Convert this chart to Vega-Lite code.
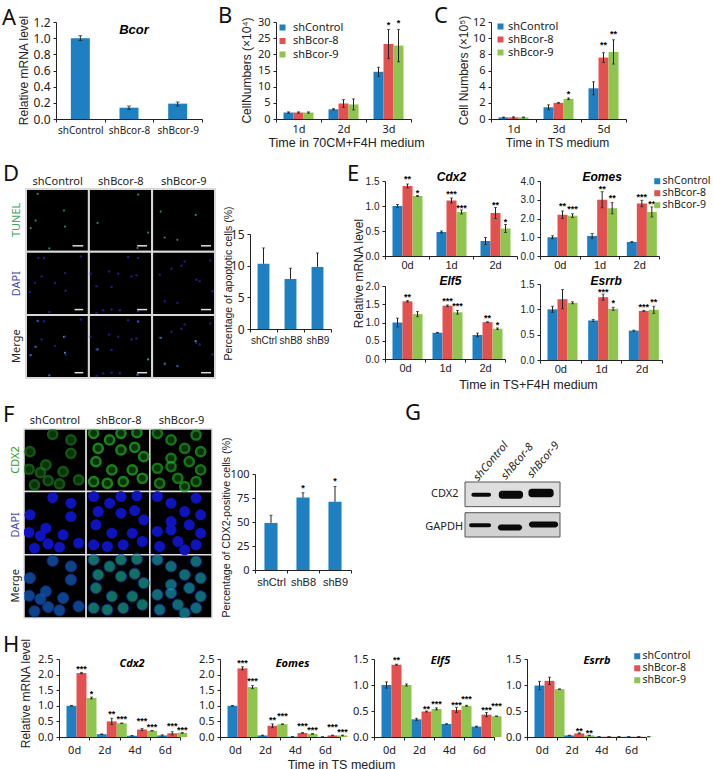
{"$schema":"https://vega.github.io/schema/vega-lite/v6.json","padding":0,"background":"white","bounds":"flush","spacing":0,
"resolve":{"scale":{"color":"independent","stroke":"independent","fill":"independent"},"legend":{"color":"independent","stroke":"independent","fill":"independent"}},
"config":{"view":{"stroke":null},"title":{"font":"Noto Sans","fontSize":22,"fontWeight":"normal","anchor":"start","frame":"group","offset":0,"color":"#111"},"axis":{"grid":false,"domainColor":"#222","tickColor":"#222","tickSize":3,"labelColor":"#222","titleColor":"#222","titleFont":"Liberation Sans","titleFontSize":12,"titleFontWeight":"normal","titleBaseline":"middle","labelFont":"Noto Sans","labelFontSize":11,"labelPadding":3,"labelOverlap":false},"axisX":{"labelAngle":0},"legend":{"padding":0,"labelFont":"Noto Sans","labelFontSize":11,"labelColor":"#222","symbolType":"square","symbolStrokeWidth":0,"symbolSize":36,"labelOffset":5}},
"vconcat":[
{"width":713,"height":22,"data":{"values":[{"a":0}]},"mark":{"type":"point","opacity":0,"size":0,"strokeWidth":0},"encoding":{}},
{"bounds":"flush","spacing":0,"resolve":{"scale":{"color":"independent","stroke":"independent","fill":"independent"},"legend":{"color":"independent","stroke":"independent","fill":"independent"}},"hconcat":[
{"width":56,"height":1,"data":{"values":[{"a":0}]},"mark":{"type":"point","opacity":0,"size":0,"strokeWidth":0},"encoding":{}},
{"width":146,"height":97,"title":{"text":"A","dx":-54,"dy":19},"resolve":{"axis":{"y":"independent"}},
"data":{"values":[{"d":"shControl","v":1,"lo":0.97,"hi":1.03},{"d":"shBcor-8","v":0.14,"lo":0.12,"hi":0.16,"gene":"Bcor","gy":1.1},{"d":"shBcor-9","v":0.19,"lo":0.16,"hi":0.21}]},
"encoding":{"x":{"field":"d","type":"nominal","sort":null,"title":null,"scale":{"paddingInner":0,"paddingOuter":0},"axis":{"tickBand":"extent","labelFontSize":10}}},
"layer":[
{"mark":{"type":"bar","color":"#1e7fc1","width":{"band":0.39}},"encoding":{"y":{"field":"v","type":"quantitative","scale":{"domain":[0,1.2],"nice":false},"axis":{"values":[0,0.2,0.4,0.6,0.8,1,1.2],"format":".1f","labelFontSize":12,"title":"Relative mRNA level","titleX":-33,"titleY":48}}}},
{"mark":{"type":"rule","color":"#222"},"encoding":{"y":{"field":"lo","type":"quantitative","axis":null},"y2":{"field":"hi"}}},
{"mark":{"type":"tick","color":"#222","size":4,"thickness":1},"encoding":{"y":{"field":"lo","type":"quantitative","axis":null}}},
{"mark":{"type":"tick","color":"#222","size":4,"thickness":1},"encoding":{"y":{"field":"hi","type":"quantitative","axis":null}}},
{"mark":{"type":"text","font":"Liberation Sans","fontSize":13,"fontWeight":"bold","fontStyle":"italic","dx":5},"encoding":{"y":{"field":"gy","type":"quantitative","axis":null},"text":{"field":"gene"}}}
]},
{"width":74,"height":1,"data":{"values":[{"a":0}]},"mark":{"type":"point","opacity":0,"size":0,"strokeWidth":0},"encoding":{}},
{"width":135,"height":97,"title":{"text":"B","dx":-58,"dy":16},"resolve":{"axis":{"y":"independent"}},
"data":{"values":[{"d":"1d","g":"shControl","v":2,"lo":1.8,"hi":2.2},{"d":"1d","g":"shBcor-8","v":2,"lo":1.8,"hi":2.2},{"d":"1d","g":"shBcor-9","v":2,"lo":1.8,"hi":2.2},{"d":"2d","g":"shControl","v":3,"lo":2.8,"hi":3.2},{"d":"2d","g":"shBcor-8","v":4.8,"lo":3.6,"hi":6},{"d":"2d","g":"shBcor-9","v":4.5,"lo":2.8,"hi":6.2},{"d":"3d","g":"shControl","v":14.6,"lo":13.2,"hi":16},{"d":"3d","g":"shBcor-8","v":23.2,"lo":18.7,"hi":27.7,"s":"*","sy":29.7},{"d":"3d","g":"shBcor-9","v":22.7,"lo":17.7,"hi":27.7,"s":"*","sy":30.4}]},
"encoding":{"x":{"field":"d","type":"nominal","title":null,"scale":{"paddingInner":0,"paddingOuter":0},"axis":{"tickBand":"extent","labelPadding":1,"title":"Time in 70CM+F4H medium","titleX":70,"titleY":23,"titleFontSize":12.5}},"xOffset":{"field":"g","type":"nominal","scale":{"domain":["shControl","shBcor-8","shBcor-9"],"paddingInner":0,"paddingOuter":0.75}}},
"layer":[
{"mark":{"type":"bar"},"encoding":{"y":{"field":"v","type":"quantitative","stack":null,"scale":{"domain":[0,30],"nice":false},"axis":{"values":[0,5,10,15,20,25,30],"title":"CellNumbers (×10⁴)","titleX":-30,"titleY":48}},"color":{"field":"g","type":"nominal","scale":{"domain":["shControl","shBcor-8","shBcor-9"],"range":["#1e7fc1","#e25050","#8fc44f"]},"legend":{"orient":"none","legendX":1,"legendY":0,"title":null,"rowPadding":1.5}}}},
{"mark":{"type":"rule","color":"#222"},"encoding":{"y":{"field":"lo","type":"quantitative","axis":null},"y2":{"field":"hi"}}},
{"mark":{"type":"tick","color":"#222","size":3,"thickness":1},"encoding":{"y":{"field":"lo","type":"quantitative","axis":null}}},
{"mark":{"type":"tick","color":"#222","size":3,"thickness":1},"encoding":{"y":{"field":"hi","type":"quantitative","axis":null}}},
{"mark":{"type":"text","font":"Liberation Sans","fontSize":9,"fontWeight":"bold","dy":2},"encoding":{"y":{"field":"sy","type":"quantitative","axis":null},"text":{"field":"s"}}}
]},
{"width":80,"height":1,"data":{"values":[{"a":0}]},"mark":{"type":"point","opacity":0,"size":0,"strokeWidth":0},"encoding":{}},
{"width":135,"height":97,"title":{"text":"C","dx":-57,"dy":17},"resolve":{"axis":{"y":"independent"}},
"data":{"values":[{"d":"1d","g":"shControl","v":0.2,"lo":0.15,"hi":0.25},{"d":"1d","g":"shBcor-8","v":0.2,"lo":0.12,"hi":0.28},{"d":"1d","g":"shBcor-9","v":0.2,"lo":0.15,"hi":0.25},{"d":"3d","g":"shControl","v":1.45,"lo":1.15,"hi":1.75},{"d":"3d","g":"shBcor-8","v":2,"lo":1.95,"hi":2.05},{"d":"3d","g":"shBcor-9","v":2.5,"lo":2.4,"hi":2.6,"s":"*","sy":3.4},{"d":"5d","g":"shControl","v":3.8,"lo":3,"hi":4.6},{"d":"5d","g":"shBcor-8","v":7.6,"lo":7,"hi":8.2,"s":"**","sy":9.4},{"d":"5d","g":"shBcor-9","v":8.3,"lo":6.8,"hi":9.8,"s":"**","sy":10.8}]},
"encoding":{"x":{"field":"d","type":"nominal","title":null,"scale":{"paddingInner":0,"paddingOuter":0},"axis":{"tickBand":"extent","labelPadding":1,"title":"Time in TS medium","titleX":66,"titleY":23}},"xOffset":{"field":"g","type":"nominal","scale":{"domain":["shControl","shBcor-8","shBcor-9"],"paddingInner":0,"paddingOuter":0.75}}},
"layer":[
{"mark":{"type":"bar"},"encoding":{"y":{"field":"v","type":"quantitative","stack":null,"scale":{"domain":[0,12],"nice":false},"axis":{"values":[0,2,4,6,8,10,12],"title":"Cell Numbers (×10⁵)","titleX":-28,"titleY":48}},"color":{"field":"g","type":"nominal","scale":{"domain":["shControl","shBcor-8","shBcor-9"],"range":["#1e7fc1","#e25050","#8fc44f"]},"legend":{"orient":"none","legendX":4,"legendY":-1,"title":null,"rowPadding":1,"labelOffset":2}}}},
{"mark":{"type":"rule","color":"#222"},"encoding":{"y":{"field":"lo","type":"quantitative","axis":null},"y2":{"field":"hi"}}},
{"mark":{"type":"tick","color":"#222","size":3,"thickness":1},"encoding":{"y":{"field":"lo","type":"quantitative","axis":null}}},
{"mark":{"type":"tick","color":"#222","size":3,"thickness":1},"encoding":{"y":{"field":"hi","type":"quantitative","axis":null}}},
{"mark":{"type":"text","font":"Liberation Sans","fontSize":9,"fontWeight":"bold","dy":2},"encoding":{"y":{"field":"sy","type":"quantitative","axis":null},"text":{"field":"s"}}}
]}
]},
{"width":1,"height":159,"data":{"values":[{"a":0}]},"mark":{"type":"point","opacity":0,"size":0,"strokeWidth":0},"encoding":{}},
{"bounds":"flush","spacing":0,"resolve":{"scale":{"color":"independent","stroke":"independent","fill":"independent"},"legend":{"color":"independent","stroke":"independent","fill":"independent"}},"hconcat":[
{"width":26,"height":1,"data":{"values":[{"a":0}]},"mark":{"type":"point","opacity":0,"size":0,"strokeWidth":0},"encoding":{}},
{"bounds":"flush","spacing":0,"resolve":{"scale":{"color":"independent","stroke":"independent","fill":"independent"},"legend":{"color":"independent","stroke":"independent","fill":"independent"}},"vconcat":[
{"width":1,"height":8,"data":{"values":[{"a":0}]},"mark":{"type":"point","opacity":0,"size":0,"strokeWidth":0},"encoding":{}},
{"width":189,"height":189,"title":{"text":"D","dx":-23,"dy":14},
"layer":[
{"data":{"values":[{"x":78,"x2":267,"y":87,"y2":276},{"x":267,"x2":457,"y":87,"y2":276},{"x":457,"x2":646,"y":87,"y2":276},{"x":78,"x2":267,"y":276,"y2":466},{"x":267,"x2":457,"y":276,"y2":466},{"x":457,"x2":646,"y":276,"y2":466},{"x":78,"x2":267,"y":466,"y2":656},{"x":267,"x2":457,"y":466,"y2":656},{"x":457,"x2":646,"y":466,"y2":656}]},
"mark":{"type":"rect","color":"#000","stroke":"#d8d8d8","strokeWidth":2},"encoding":{"x":{"field":"x","type":"quantitative","scale":{"domain":[78,646],"nice":false,"zero":false},"axis":null},"x2":{"field":"x2"},"y":{"field":"y","type":"quantitative","scale":{"domain":[656,87],"nice":false,"zero":false},"axis":null},"y2":{"field":"y2"}}},
{"data":{"values":[{"x":113,"y":102,"ym":484},{"x":192,"y":152,"ym":532},{"x":107,"y":182,"ym":562},{"x":195,"y":200,"ym":580},{"x":148,"y":266,"ym":648},{"x":92,"y":205,"ym":587},{"x":415,"y":104,"ym":486},{"x":293,"y":189,"ym":570},{"x":445,"y":218,"ym":600},{"x":413,"y":265,"ym":646},{"x":483,"y":155,"ym":535},{"x":588,"y":165,"ym":545},{"x":495,"y":233,"ym":613},{"x":533,"y":240,"ym":620}]},
"layer":[
{"mark":{"type":"point","filled":true,"color":"#3aa860","size":5,"opacity":0.8},"encoding":{"x":{"field":"x","type":"quantitative"},"y":{"field":"y","type":"quantitative"}}},
{"mark":{"type":"point","filled":true,"color":"#4cc0a0","size":5,"opacity":0.8},"encoding":{"x":{"field":"x","type":"quantitative"},"y":{"field":"ym","type":"quantitative"}}}
]},
{"data":{"values":[{"x":115,"y":295,"ym":485},{"x":132,"y":295,"ym":485},{"x":243,"y":290,"ym":480},{"x":125,"y":350,"ym":540},{"x":105,"y":370,"ym":562},{"x":195,"y":340,"ym":532},{"x":165,"y":370,"ym":560},{"x":197,"y":393,"ym":585},{"x":90,"y":397,"ym":588},{"x":148,"y":457,"ym":648},{"x":290,"y":380,"ym":570},{"x":335,"y":382,"ym":572},{"x":328,"y":335,"ym":525},{"x":355,"y":342,"ym":532},{"x":385,"y":292,"ym":482},{"x":415,"y":295,"ym":485},{"x":272,"y":342,"ym":532},{"x":410,"y":347,"ym":537},{"x":395,"y":350,"ym":540},{"x":415,"y":455,"ym":646},{"x":360,"y":452,"ym":642},{"x":335,"y":450,"ym":640},{"x":310,"y":452,"ym":642},{"x":290,"y":460,"ym":650},{"x":480,"y":345,"ym":535},{"x":545,"y":318,"ym":508},{"x":515,"y":327,"ym":517},{"x":590,"y":360,"ym":550},{"x":600,"y":365,"ym":555},{"x":495,"y":425,"ym":615},{"x":533,"y":430,"ym":620},{"x":632,"y":302,"ym":492},{"x":638,"y":395,"ym":585},{"x":555,"y":305,"ym":495}]},
"layer":[
{"mark":{"type":"point","filled":true,"color":"#2626c0","size":6,"opacity":0.7},"encoding":{"x":{"field":"x","type":"quantitative"},"y":{"field":"y","type":"quantitative"}}},
{"mark":{"type":"point","filled":true,"color":"#2626c0","size":6,"opacity":0.7},"encoding":{"x":{"field":"x","type":"quantitative"},"y":{"field":"ym","type":"quantitative"}}}
]},
{"data":{"values":[{"x":218,"x2":250,"y":258},{"x":412,"x2":442,"y":258},{"x":604,"x2":634,"y":258},{"x":224,"x2":250,"y":450},{"x":412,"x2":442,"y":450},{"x":604,"x2":634,"y":450},{"x":224,"x2":250,"y":640},{"x":412,"x2":442,"y":640},{"x":604,"x2":634,"y":640}]},
"mark":{"type":"rule","color":"#ddd","strokeWidth":1.5},"encoding":{"x":{"field":"x","type":"quantitative"},"x2":{"field":"x2"},"y":{"field":"y","type":"quantitative"}}},
{"data":{"values":[{"t":"shControl","x":173,"y":65},{"t":"shBcor-8","x":363,"y":65},{"t":"shBcor-9","x":552,"y":65}]},
"mark":{"type":"text","font":"Noto Sans","fontSize":11,"color":"#222"},"encoding":{"x":{"field":"x","type":"quantitative"},"y":{"field":"y","type":"quantitative"},"text":{"field":"t"}}},
{"data":{"values":[{"t":"TUNEL","x":50,"y":180},{"t":"DAPI","x":50,"y":372},{"t":"Merge","x":50,"y":560}]},
"mark":{"type":"text","font":"Noto Sans","fontSize":11,"angle":270},"encoding":{"x":{"field":"x","type":"quantitative"},"y":{"field":"y","type":"quantitative"},"text":{"field":"t"},"color":{"field":"t","type":"nominal","scale":{"domain":["TUNEL","DAPI","Merge"],"range":["#3aa860","#4a4ab0","#222222"]},"legend":null}}}
]}
]},
{"width":224,"height":1,"data":{"values":[{"a":0}]},"mark":{"type":"point","opacity":0,"size":0,"strokeWidth":0},"encoding":{}},
{"bounds":"flush","spacing":0,"resolve":{"scale":{"color":"independent","stroke":"independent","fill":"independent"},"legend":{"color":"independent","stroke":"independent","fill":"independent"}},"vconcat":[
{"width":1,"height":53,"data":{"values":[{"a":0}]},"mark":{"type":"point","opacity":0,"size":0,"strokeWidth":0},"encoding":{}},
{"width":81,"height":95,"resolve":{"axis":{"y":"independent"}},
"data":{"values":[{"d":"shCtrl","v":10.3,"hi":12.8},{"d":"shB8","v":7.9,"hi":9.6},{"d":"shB9","v":9.8,"hi":12}]},
"encoding":{"x":{"field":"d","type":"nominal","sort":null,"title":null,"scale":{"paddingInner":0,"paddingOuter":0},"axis":{"tickBand":"extent","labelFont":"Liberation Sans","labelFontSize":10}}},
"layer":[
{"mark":{"type":"bar","color":"#1e7fc1","width":{"band":0.44}},"encoding":{"y":{"field":"v","type":"quantitative","scale":{"domain":[0,15],"nice":false},"axis":{"values":[0,5,10,15],"labelFontSize":12,"title":"Percentage of apoptotic cells (%)","titleX":-22,"titleY":49,"titleFontSize":10.5}}}},
{"mark":{"type":"rule","color":"#222"},"encoding":{"y":{"field":"v","type":"quantitative","axis":null},"y2":{"field":"hi"}}},
{"mark":{"type":"tick","color":"#222","size":3,"thickness":1},"encoding":{"y":{"field":"hi","type":"quantitative","axis":null}}}
]}
]},
{"width":135,"height":1,"data":{"values":[{"a":0}]},"mark":{"type":"point","opacity":0,"size":0,"strokeWidth":0},"encoding":{}},
{"bounds":"flush","spacing":0,"resolve":{"scale":{"color":"independent","stroke":"independent","fill":"independent"},"legend":{"color":"independent","stroke":"independent","fill":"independent"}},"vconcat":[
{"width":132,"height":75,"title":{"text":"E","dx":-38,"dy":19},"resolve":{"axis":{"y":"independent"}},
"data":{"values":[{"d":"0d","g":"shControl","v":1,"lo":0.97,"hi":1.03},{"d":"0d","g":"shBcor-8","v":1.4,"lo":1.36,"hi":1.44,"s":"**","sy":1.58},{"d":"0d","g":"shBcor-9","v":1.2,"lo":1.19,"hi":1.21,"s":"*","sy":1.3},{"d":"1d","g":"shControl","v":0.48,"lo":0.46,"hi":0.5},{"d":"1d","g":"shBcor-8","v":1.11,"lo":1.06,"hi":1.16,"s":"***","sy":1.28,"gene":"Cdx2","gy":1.58},{"d":"1d","g":"shBcor-9","v":0.88,"lo":0.84,"hi":0.92,"s":"***","sy":1.01},{"d":"2d","g":"shControl","v":0.3,"lo":0.23,"hi":0.37},{"d":"2d","g":"shBcor-8","v":0.86,"lo":0.75,"hi":0.97,"s":"**","sy":1.07},{"d":"2d","g":"shBcor-9","v":0.55,"lo":0.47,"hi":0.63,"s":"*","sy":0.73}]},
"encoding":{"x":{"field":"d","type":"nominal","title":null,"scale":{"paddingInner":0,"paddingOuter":0},"axis":{"tickBand":"extent","labelFont":"Liberation Sans","labelPadding":0}},"xOffset":{"field":"g","type":"nominal","scale":{"domain":["shControl","shBcor-8","shBcor-9"],"paddingInner":0,"paddingOuter":0.7}}},
"layer":[
{"mark":{"type":"bar"},"encoding":{"y":{"field":"v","type":"quantitative","stack":null,"scale":{"domain":[0,1.5],"nice":false},"axis":{"values":[0,0.5,1,1.5],"format":".1f","labelFont":"Liberation Sans","labelFontSize":10,"title":null}},"color":{"field":"g","type":"nominal","scale":{"domain":["shControl","shBcor-8","shBcor-9"],"range":["#1e7fc1","#e25050","#8fc44f"]},"legend":null}}},
{"mark":{"type":"rule","color":"#222"},"encoding":{"y":{"field":"lo","type":"quantitative","axis":null},"y2":{"field":"hi"}}},
{"mark":{"type":"tick","color":"#222","size":3,"thickness":1},"encoding":{"y":{"field":"lo","type":"quantitative","axis":null}}},
{"mark":{"type":"tick","color":"#222","size":3,"thickness":1},"encoding":{"y":{"field":"hi","type":"quantitative","axis":null}}},
{"mark":{"type":"text","font":"Liberation Sans","fontSize":9,"fontWeight":"bold","dy":2},"encoding":{"y":{"field":"sy","type":"quantitative","axis":null},"text":{"field":"s"}}},
{"mark":{"type":"text","font":"Liberation Sans","fontSize":12,"fontWeight":"bold","fontStyle":"italic"},"encoding":{"y":{"field":"gy","type":"quantitative","axis":null},"text":{"field":"gene"}}}
]},
{"width":1,"height":30,"data":{"values":[{"a":0}]},"mark":{"type":"point","opacity":0,"size":0,"strokeWidth":0},"encoding":{}},
{"width":120,"height":73,"resolve":{"axis":{"y":"independent"}},
"data":{"values":[{"d":"0d","g":"shControl","v":1,"lo":0.88,"hi":1.12},{"d":"0d","g":"shBcor-8","v":1.58,"lo":1.56,"hi":1.6,"s":"**","sy":1.76},{"d":"0d","g":"shBcor-9","v":1.23,"lo":1.16,"hi":1.3},{"d":"1d","g":"shControl","v":0.72,"lo":0.71,"hi":0.73},{"d":"1d","g":"shBcor-8","v":1.46,"lo":1.44,"hi":1.48,"s":"***","sy":1.64,"gene":"Elf5","gy":2.14},{"d":"1d","g":"shBcor-9","v":1.28,"lo":1.23,"hi":1.33,"s":"***","sy":1.51},{"d":"2d","g":"shControl","v":0.66,"lo":0.61,"hi":0.71},{"d":"2d","g":"shBcor-8","v":1.01,"lo":1,"hi":1.02,"s":"**","sy":1.19},{"d":"2d","g":"shBcor-9","v":0.83,"lo":0.81,"hi":0.85,"s":"*","sy":1}]},
"encoding":{"x":{"field":"d","type":"nominal","title":null,"scale":{"paddingInner":0,"paddingOuter":0},"axis":{"tickBand":"extent","labelFont":"Liberation Sans","labelPadding":0,"title":"Time in TS+F4H medium","titleX":143,"titleY":25,"titleFontSize":12.5}},"xOffset":{"field":"g","type":"nominal","scale":{"domain":["shControl","shBcor-8","shBcor-9"],"paddingInner":0,"paddingOuter":0.55}}},
"layer":[
{"mark":{"type":"bar"},"encoding":{"y":{"field":"v","type":"quantitative","stack":null,"scale":{"domain":[0,2],"nice":false},"axis":{"values":[0,0.5,1,1.5,2],"format":".1f","labelFont":"Liberation Sans","labelFontSize":10,"title":"Relative mRNA level","titleX":-27,"titleY":-13}},"color":{"field":"g","type":"nominal","scale":{"domain":["shControl","shBcor-8","shBcor-9"],"range":["#1e7fc1","#e25050","#8fc44f"]},"legend":null}}},
{"mark":{"type":"rule","color":"#222"},"encoding":{"y":{"field":"lo","type":"quantitative","axis":null},"y2":{"field":"hi"}}},
{"mark":{"type":"tick","color":"#222","size":3,"thickness":1},"encoding":{"y":{"field":"lo","type":"quantitative","axis":null}}},
{"mark":{"type":"tick","color":"#222","size":3,"thickness":1},"encoding":{"y":{"field":"hi","type":"quantitative","axis":null}}},
{"mark":{"type":"text","font":"Liberation Sans","fontSize":9,"fontWeight":"bold","dy":2},"encoding":{"y":{"field":"sy","type":"quantitative","axis":null},"text":{"field":"s"}}},
{"mark":{"type":"text","font":"Liberation Sans","fontSize":12,"fontWeight":"bold","fontStyle":"italic","dx":3},"encoding":{"y":{"field":"gy","type":"quantitative","axis":null},"text":{"field":"gene"}}}
]}
]},
{"width":155,"height":1,"data":{"values":[{"a":0}]},"mark":{"type":"point","opacity":0,"size":0,"strokeWidth":0},"encoding":{}},
{"bounds":"flush","spacing":0,"resolve":{"scale":{"color":"independent","stroke":"independent","fill":"independent"},"legend":{"color":"independent","stroke":"independent","fill":"independent"}},"vconcat":[
{"width":119,"height":75,"resolve":{"axis":{"y":"independent"}},
"data":{"values":[{"d":"0d","g":"shControl","v":1,"lo":0.92,"hi":1.08},{"d":"0d","g":"shBcor-8","v":2.2,"lo":2,"hi":2.4,"s":"**","sy":2.8},{"d":"0d","g":"shBcor-9","v":2.15,"lo":2.05,"hi":2.25,"s":"***","sy":2.6},{"d":"1d","g":"shControl","v":1.07,"lo":0.94,"hi":1.2},{"d":"1d","g":"shBcor-8","v":3,"lo":2.57,"hi":3.43,"s":"**","sy":3.7,"gene":"Eomes","gy":4.2},{"d":"1d","g":"shBcor-9","v":2.55,"lo":2.25,"hi":2.85,"s":"**","sy":3.2},{"d":"2d","g":"shControl","v":0.75,"lo":0.73,"hi":0.77},{"d":"2d","g":"shBcor-8","v":2.8,"lo":2.63,"hi":2.97,"s":"***","sy":3.25},{"d":"2d","g":"shBcor-9","v":2.35,"lo":2.08,"hi":2.62,"s":"**","sy":2.9}]},
"encoding":{"x":{"field":"d","type":"nominal","title":null,"scale":{"paddingInner":0,"paddingOuter":0},"axis":{"tickBand":"extent","labelFont":"Liberation Sans","labelPadding":0}},"xOffset":{"field":"g","type":"nominal","scale":{"domain":["shControl","shBcor-8","shBcor-9"],"paddingInner":0,"paddingOuter":0.55}}},
"layer":[
{"mark":{"type":"bar"},"encoding":{"y":{"field":"v","type":"quantitative","stack":null,"scale":{"domain":[0,4],"nice":false},"axis":{"values":[0,1,2,3,4],"format":".1f","labelFont":"Liberation Sans","labelFontSize":10,"title":null}},"color":{"field":"g","type":"nominal","scale":{"domain":["shControl","shBcor-8","shBcor-9"],"range":["#1e7fc1","#e25050","#8fc44f"]},"legend":{"orient":"none","legendX":112,"legendY":-5,"title":null,"rowPadding":1,"labelOffset":0,"labelFontSize":10.5}}}},
{"mark":{"type":"rule","color":"#222"},"encoding":{"y":{"field":"lo","type":"quantitative","axis":null},"y2":{"field":"hi"}}},
{"mark":{"type":"tick","color":"#222","size":3,"thickness":1},"encoding":{"y":{"field":"lo","type":"quantitative","axis":null}}},
{"mark":{"type":"tick","color":"#222","size":3,"thickness":1},"encoding":{"y":{"field":"hi","type":"quantitative","axis":null}}},
{"mark":{"type":"text","font":"Liberation Sans","fontSize":9,"fontWeight":"bold","dy":2},"encoding":{"y":{"field":"sy","type":"quantitative","axis":null},"text":{"field":"s"}}},
{"mark":{"type":"text","font":"Liberation Sans","fontSize":12,"fontWeight":"bold","fontStyle":"italic"},"encoding":{"y":{"field":"gy","type":"quantitative","axis":null},"text":{"field":"gene"}}}
]},
{"width":1,"height":28,"data":{"values":[{"a":0}]},"mark":{"type":"point","opacity":0,"size":0,"strokeWidth":0},"encoding":{}},
{"width":122,"height":76,"resolve":{"axis":{"y":"independent"}},
"data":{"values":[{"d":"0d","g":"shControl","v":1,"lo":0.94,"hi":1.06},{"d":"0d","g":"shBcor-8","v":1.2,"lo":1.01,"hi":1.39},{"d":"0d","g":"shBcor-9","v":1.13,"lo":1.11,"hi":1.15},{"d":"1d","g":"shControl","v":0.78,"lo":0.76,"hi":0.8},{"d":"1d","g":"shBcor-8","v":1.24,"lo":1.18,"hi":1.3,"s":"***","sy":1.39,"gene":"Esrrb","gy":1.56},{"d":"1d","g":"shBcor-9","v":1.01,"lo":0.98,"hi":1.04,"s":"*","sy":1.16},{"d":"2d","g":"shControl","v":0.58,"lo":0.57,"hi":0.59},{"d":"2d","g":"shBcor-8","v":0.97,"lo":0.96,"hi":0.98,"s":"***","sy":1.08},{"d":"2d","g":"shBcor-9","v":0.99,"lo":0.92,"hi":1.06,"s":"**","sy":1.19}]},
"encoding":{"x":{"field":"d","type":"nominal","title":null,"scale":{"paddingInner":0,"paddingOuter":0},"axis":{"tickBand":"extent","labelFont":"Liberation Sans","labelPadding":0}},"xOffset":{"field":"g","type":"nominal","scale":{"domain":["shControl","shBcor-8","shBcor-9"],"paddingInner":0,"paddingOuter":0.55}}},
"layer":[
{"mark":{"type":"bar"},"encoding":{"y":{"field":"v","type":"quantitative","stack":null,"scale":{"domain":[0,1.5],"nice":false},"axis":{"values":[0,0.5,1,1.5],"format":".1f","labelFont":"Liberation Sans","labelFontSize":10,"title":null}},"color":{"field":"g","type":"nominal","scale":{"domain":["shControl","shBcor-8","shBcor-9"],"range":["#1e7fc1","#e25050","#8fc44f"]},"legend":null}}},
{"mark":{"type":"rule","color":"#222"},"encoding":{"y":{"field":"lo","type":"quantitative","axis":null},"y2":{"field":"hi"}}},
{"mark":{"type":"tick","color":"#222","size":3,"thickness":1},"encoding":{"y":{"field":"lo","type":"quantitative","axis":null}}},
{"mark":{"type":"tick","color":"#222","size":3,"thickness":1},"encoding":{"y":{"field":"hi","type":"quantitative","axis":null}}},
{"mark":{"type":"text","font":"Liberation Sans","fontSize":9,"fontWeight":"bold","dy":2},"encoding":{"y":{"field":"sy","type":"quantitative","axis":null},"text":{"field":"s"}}},
{"mark":{"type":"text","font":"Liberation Sans","fontSize":12,"fontWeight":"bold","fontStyle":"italic","dx":3},"encoding":{"y":{"field":"gy","type":"quantitative","axis":null},"text":{"field":"gene"}}}
]}
]}
]},
{"width":1,"height":248,"data":{"values":[{"a":0}]},"mark":{"type":"point","opacity":0,"size":0,"strokeWidth":0},"encoding":{}},
{"bounds":"flush","spacing":0,"resolve":{"scale":{"color":"independent","stroke":"independent","fill":"independent"},"legend":{"color":"independent","stroke":"independent","fill":"independent"}},"hconcat":[
{"width":24,"height":1,"data":{"values":[{"a":0}]},"mark":{"type":"point","opacity":0,"size":0,"strokeWidth":0},"encoding":{}},
{"width":188,"height":189,"title":{"text":"F","dx":-21,"dy":16},
"layer":[
{"data":{"values":[{"x":52,"x2":188.5,"y":117,"y2":305},{"x":188.5,"x2":328.5,"y":117,"y2":305},{"x":328.5,"x2":465,"y":117,"y2":305},{"x":52,"x2":188.5,"y":305,"y2":495},{"x":188.5,"x2":328.5,"y":305,"y2":495},{"x":328.5,"x2":465,"y":305,"y2":495},{"x":52,"x2":188.5,"y":495,"y2":685},{"x":188.5,"x2":328.5,"y":495,"y2":685},{"x":328.5,"x2":465,"y":495,"y2":685}]},
"mark":{"type":"rect","color":"#000","stroke":"#e0e0e0","strokeWidth":1.5},"encoding":{"x":{"field":"x","type":"quantitative","scale":{"domain":[52,465],"nice":false,"zero":false},"axis":null},"x2":{"field":"x2"},"y":{"field":"y","type":"quantitative","scale":{"domain":[685,117],"nice":false,"zero":false},"axis":null},"y2":{"field":"y2"}}},
{"data":{"values":[{"k":"ctrl","x":115,"y":133,"yd":323,"ym":513},{"k":"ctrl","x":155,"y":150,"yd":340,"ym":530},{"k":"ctrl","x":65,"y":185,"yd":375,"ym":565},{"k":"ctrl","x":100,"y":225,"yd":415,"ym":605},{"k":"ctrl","x":138,"y":245,"yd":435,"ym":625},{"k":"ctrl","x":88,"y":248,"yd":438,"ym":628},{"k":"ctrl","x":63,"y":238,"yd":428,"ym":618},{"k":"ctrl","x":155,"y":190,"yd":380,"ym":570},{"k":"ctrl","x":172,"y":270,"yd":460,"ym":650},{"k":"ctrl","x":130,"y":282,"yd":472,"ym":662},{"k":"ctrl","x":75,"y":285,"yd":475,"ym":665},{"k":"ctrl","x":105,"y":272,"yd":462,"ym":652},{"k":"b8","x":205,"y":130,"yd":320,"ym":510},{"k":"b8","x":240,"y":150,"yd":340,"ym":530},{"k":"b8","x":215,"y":175,"yd":365,"ym":555},{"k":"b8","x":265,"y":180,"yd":370,"ym":560},{"k":"b8","x":295,"y":172,"yd":362,"ym":552},{"k":"b8","x":315,"y":200,"yd":390,"ym":580},{"k":"b8","x":210,"y":215,"yd":405,"ym":595},{"k":"b8","x":245,"y":240,"yd":430,"ym":620},{"k":"b8","x":290,"y":240,"yd":430,"ym":620},{"k":"b8","x":205,"y":275,"yd":465,"ym":655},{"k":"b8","x":235,"y":280,"yd":470,"ym":660},{"k":"b8","x":270,"y":275,"yd":465,"ym":655},{"k":"b8","x":312,"y":265,"yd":455,"ym":645},{"k":"b8","x":265,"y":130,"yd":320,"ym":510},{"k":"b8","x":300,"y":128,"yd":318,"ym":508},{"k":"b9","x":375,"y":150,"yd":340,"ym":530},{"k":"b9","x":345,"y":130,"yd":320,"ym":510},{"k":"b9","x":430,"y":135,"yd":325,"ym":515},{"k":"b9","x":405,"y":175,"yd":365,"ym":555},{"k":"b9","x":375,"y":205,"yd":395,"ym":585},{"k":"b9","x":440,"y":185,"yd":375,"ym":565},{"k":"b9","x":345,"y":235,"yd":425,"ym":615},{"k":"b9","x":375,"y":230,"yd":420,"ym":610},{"k":"b9","x":415,"y":215,"yd":405,"ym":595},{"k":"b9","x":440,"y":240,"yd":430,"ym":620},{"k":"b9","x":350,"y":280,"yd":470,"ym":660},{"k":"b9","x":390,"y":265,"yd":455,"ym":645},{"k":"b9","x":430,"y":275,"yd":465,"ym":655},{"k":"b9","x":405,"y":290,"yd":480,"ym":670}]},
"layer":[
{"mark":{"type":"point","shape":"circle","filled":true,"size":85,"strokeWidth":2.5,"fill":"#0c4a0c","clip":true},"encoding":{"x":{"field":"x","type":"quantitative"},"y":{"field":"y","type":"quantitative"},"stroke":{"field":"k","type":"nominal","scale":{"domain":["ctrl","b8","b9"],"range":["#1c7a22","#28b828","#22a524"]},"legend":null}}},
{"mark":{"type":"point","shape":"circle","filled":true,"size":120,"color":"#0f14c8","opacity":0.95,"clip":true},"encoding":{"x":{"field":"x","type":"quantitative"},"y":{"field":"yd","type":"quantitative"}}},
{"mark":{"type":"point","shape":"circle","filled":true,"size":125,"stroke":"#0c3fb4","strokeWidth":1,"clip":true},"encoding":{"x":{"field":"x","type":"quantitative"},"y":{"field":"ym","type":"quantitative"},"fill":{"field":"k","type":"nominal","scale":{"domain":["ctrl","b8","b9"],"range":["#1560c8","#18a08c","#1898a8"]},"legend":null}}}
]},
{"data":{"values":[{"t":"shControl","x":120,"y":93},{"t":"shBcor-8","x":260,"y":93},{"t":"shBcor-9","x":398,"y":93}]},
"mark":{"type":"text","font":"Noto Sans","fontSize":11,"color":"#222"},"encoding":{"x":{"field":"x","type":"quantitative"},"y":{"field":"y","type":"quantitative"},"text":{"field":"t"}}},
{"data":{"values":[{"t":"CDX2","x":35,"y":210},{"t":"DAPI","x":35,"y":405},{"t":"Merge","x":35,"y":588}]},
"mark":{"type":"text","font":"Noto Sans","fontSize":11,"angle":270},"encoding":{"x":{"field":"x","type":"quantitative"},"y":{"field":"y","type":"quantitative"},"text":{"field":"t"},"color":{"field":"t","type":"nominal","scale":{"domain":["CDX2","DAPI","Merge"],"range":["#2ca02c","#4a4ab0","#222222"]},"legend":null}}}
]},
{"width":43,"height":1,"data":{"values":[{"a":0}]},"mark":{"type":"point","opacity":0,"size":0,"strokeWidth":0},"encoding":{}},
{"bounds":"flush","spacing":0,"resolve":{"scale":{"color":"independent","stroke":"independent","fill":"independent"},"legend":{"color":"independent","stroke":"independent","fill":"independent"}},"vconcat":[
{"width":1,"height":45,"data":{"values":[{"a":0}]},"mark":{"type":"point","opacity":0,"size":0,"strokeWidth":0},"encoding":{}},
{"width":96,"height":96,"resolve":{"axis":{"y":"independent"}},
"data":{"values":[{"d":"shCtrl","v":49,"hi":57},{"d":"shB8","v":75.5,"hi":80.5,"s":"*","sy":88},{"d":"shB9","v":71,"hi":87,"s":"*","sy":95}]},
"encoding":{"x":{"field":"d","type":"nominal","sort":null,"title":null,"scale":{"paddingInner":0,"paddingOuter":0},"axis":{"tickBand":"extent","labelFont":"Liberation Sans"}}},
"layer":[
{"mark":{"type":"bar","color":"#1e7fc1","width":{"band":0.41}},"encoding":{"y":{"field":"v","type":"quantitative","scale":{"domain":[0,100],"nice":false},"axis":{"values":[0,25,50,75,100],"title":"Percentage of CDX2-positive cells (%)","titleX":-29,"titleY":53,"titleFontSize":10.6}}}},
{"mark":{"type":"rule","color":"#222"},"encoding":{"y":{"field":"v","type":"quantitative","axis":null},"y2":{"field":"hi"}}},
{"mark":{"type":"tick","color":"#222","size":3,"thickness":1},"encoding":{"y":{"field":"hi","type":"quantitative","axis":null}}},
{"mark":{"type":"text","font":"Liberation Sans","fontSize":9,"fontWeight":"bold","dy":2},"encoding":{"y":{"field":"sy","type":"quantitative","axis":null},"text":{"field":"s"}}}
]}
]},
{"width":210,"height":1,"data":{"values":[{"a":0}]},"mark":{"type":"point","opacity":0,"size":0,"strokeWidth":0},"encoding":{}},
{"bounds":"flush","spacing":0,"resolve":{"scale":{"color":"independent","stroke":"independent","fill":"independent"},"legend":{"color":"independent","stroke":"independent","fill":"independent"}},"vconcat":[
{"width":1,"height":53,"data":{"values":[{"a":0}]},"mark":{"type":"point","opacity":0,"size":0,"strokeWidth":0},"encoding":{}},
{"width":95,"height":55,"title":{"text":"G","dx":-60,"dy":-11},
"layer":[
{"data":{"values":[{"x":1018,"x2":1226,"y":277,"y2":350,"k":"CDX2"},{"x":1018,"x2":1226,"y":368,"y2":440,"k":"GAPDH"}]},
"mark":{"type":"rect","stroke":"#555","strokeWidth":1},"encoding":{"x":{"field":"x","type":"quantitative","scale":{"domain":[1018,1226],"nice":false,"zero":false},"axis":null},"x2":{"field":"x2"},"y":{"field":"y","type":"quantitative","scale":{"domain":[440,277],"nice":false,"zero":false},"axis":null},"y2":{"field":"y2"},"fill":{"field":"k","type":"nominal","scale":{"domain":["CDX2","GAPDH"],"range":["#dedede","#d2d2d2"]},"legend":null}}},
{"data":{"values":[{"x":1032,"x2":1075,"y":309,"y2":321},{"x":1092,"x2":1145,"y":303,"y2":327},{"x":1157,"x2":1212,"y":297,"y2":322},{"x":1027,"x2":1075,"y":399,"y2":411},{"x":1090,"x2":1143,"y":403,"y2":421},{"x":1158,"x2":1222,"y":394,"y2":412}]},
"mark":{"type":"rect","color":"#0a0a0a","cornerRadius":3},"encoding":{"x":{"field":"x","type":"quantitative"},"x2":{"field":"x2"},"y":{"field":"y","type":"quantitative"},"y2":{"field":"y2"}}},
{"data":{"values":[{"t":"CDX2","x":1004,"y":313},{"t":"GAPDH","x":1014,"y":410}]},
"mark":{"type":"text","font":"Noto Sans","fontSize":11,"align":"right","color":"#222"},"encoding":{"x":{"field":"x","type":"quantitative"},"y":{"field":"y","type":"quantitative"},"text":{"field":"t"}}},
{"data":{"values":[{"t":"shControl","x":1042,"y":270},{"t":"shBcor-8","x":1103,"y":265},{"t":"shBcor-9","x":1160,"y":260}]},
"mark":{"type":"text","font":"Noto Sans","fontSize":11,"fontStyle":"italic","align":"left","angle":310,"color":"#222"},"encoding":{"x":{"field":"x","type":"quantitative"},"y":{"field":"y","type":"quantitative"},"text":{"field":"t"}}}
]}
]}
]},
{"width":1,"height":230,"data":{"values":[{"a":0}]},"mark":{"type":"point","opacity":0,"size":0,"strokeWidth":0},"encoding":{}},
{"bounds":"flush","spacing":0,"resolve":{"scale":{"color":"independent","stroke":"independent","fill":"independent"},"legend":{"color":"independent","stroke":"independent","fill":"independent"}},"hconcat":[
{"width":59,"height":1,"data":{"values":[{"a":0}]},"mark":{"type":"point","opacity":0,"size":0,"strokeWidth":0},"encoding":{}},
{"width":121,"height":78,"title":{"text":"H","dx":-56,"dy":23},"resolve":{"axis":{"y":"independent"}},
"data":{"values":[{"d":"0d","g":"shControl","v":1,"lo":0.99,"hi":1.01},{"d":"0d","g":"shBcor-8","v":2.05,"lo":2.03,"hi":2.07,"s":"***","sy":2.25},{"d":"0d","g":"shBcor-9","v":1.25,"lo":1.22,"hi":1.28,"s":"*","sy":1.45},{"d":"2d","g":"shControl","v":0.09,"lo":0.08,"hi":0.1},{"d":"2d","g":"shBcor-8","v":0.5,"lo":0.4,"hi":0.6,"s":"**","sy":0.8},{"d":"2d","g":"shBcor-9","v":0.44,"lo":0.43,"hi":0.45,"s":"***","sy":0.64},{"d":"4d","g":"shControl","v":0.04,"lo":0.03,"hi":0.05},{"d":"4d","g":"shBcor-8","v":0.24,"lo":0.21,"hi":0.27,"s":"***","sy":0.57,"gene":"Cdx2","gy":2.33},{"d":"4d","g":"shBcor-9","v":0.2,"lo":0.19,"hi":0.21,"s":"***","sy":0.39},{"d":"6d","g":"shControl","v":0.05,"lo":0.03,"hi":0.07},{"d":"6d","g":"shBcor-8","v":0.12,"lo":0.07,"hi":0.17,"s":"***","sy":0.41},{"d":"6d","g":"shBcor-9","v":0.13,"lo":0.12,"hi":0.14,"s":"***","sy":0.28}]},
"encoding":{"x":{"field":"d","type":"nominal","title":null,"scale":{"paddingInner":0,"paddingOuter":0},"axis":{"tickBand":"extent","labelPadding":4}},"xOffset":{"field":"g","type":"nominal","scale":{"domain":["shControl","shBcor-8","shBcor-9"],"paddingInner":0,"paddingOuter":0.88}}},
"layer":[
{"mark":{"type":"bar"},"encoding":{"y":{"field":"v","type":"quantitative","stack":null,"scale":{"domain":[0,2.5],"nice":false},"axis":{"values":[0,0.5,1,1.5,2,2.5],"format":".1f","title":"Relative mRNA level","titleX":-34,"titleY":34}},"color":{"field":"g","type":"nominal","scale":{"domain":["shControl","shBcor-8","shBcor-9"],"range":["#1e7fc1","#e25050","#8fc44f"]},"legend":null}}},
{"mark":{"type":"rule","color":"#222"},"encoding":{"y":{"field":"lo","type":"quantitative","axis":null},"y2":{"field":"hi"}}},
{"mark":{"type":"tick","color":"#222","size":3,"thickness":1},"encoding":{"y":{"field":"lo","type":"quantitative","axis":null}}},
{"mark":{"type":"tick","color":"#222","size":3,"thickness":1},"encoding":{"y":{"field":"hi","type":"quantitative","axis":null}}},
{"mark":{"type":"text","font":"Liberation Sans","fontSize":9,"fontWeight":"bold","dy":2},"encoding":{"y":{"field":"sy","type":"quantitative","axis":null},"text":{"field":"s"}}},
{"mark":{"type":"text","font":"Noto Sans","fontSize":11,"fontWeight":"bold","fontStyle":"italic","dx":-10},"encoding":{"y":{"field":"gy","type":"quantitative","axis":null},"text":{"field":"gene"}}}
]},
{"width":40,"height":1,"data":{"values":[{"a":0}]},"mark":{"type":"point","opacity":0,"size":0,"strokeWidth":0},"encoding":{}},
{"width":120,"height":78,"resolve":{"axis":{"y":"independent"}},
"data":{"values":[{"d":"0d","g":"shControl","v":1,"lo":0.99,"hi":1.01},{"d":"0d","g":"shBcor-8","v":2.2,"lo":2.15,"hi":2.25,"s":"***","sy":2.43},{"d":"0d","g":"shBcor-9","v":1.6,"lo":1.55,"hi":1.65,"s":"***","sy":1.86},{"d":"2d","g":"shControl","v":0.05,"lo":0.04,"hi":0.06},{"d":"2d","g":"shBcor-8","v":0.36,"lo":0.3,"hi":0.42,"s":"**","sy":0.6},{"d":"2d","g":"shBcor-9","v":0.41,"lo":0.4,"hi":0.42,"s":"***","sy":0.74},{"d":"4d","g":"shControl","v":0.01,"lo":0.005,"hi":0.015},{"d":"4d","g":"shBcor-8","v":0.13,"lo":0.12,"hi":0.14,"s":"***","sy":0.43,"gene":"Eomes","gy":2.33},{"d":"4d","g":"shBcor-9","v":0.1,"lo":0.09,"hi":0.11,"s":"***","sy":0.28},{"d":"6d","g":"shControl","v":0.005,"lo":0.003,"hi":0.007},{"d":"6d","g":"shBcor-8","v":0.05,"lo":0.04,"hi":0.06,"s":"***","sy":0.37},{"d":"6d","g":"shBcor-9","v":0.05,"lo":0.04,"hi":0.06,"s":"***","sy":0.21}]},
"encoding":{"x":{"field":"d","type":"nominal","title":null,"scale":{"paddingInner":0,"paddingOuter":0},"axis":{"tickBand":"extent","labelPadding":4}},"xOffset":{"field":"g","type":"nominal","scale":{"domain":["shControl","shBcor-8","shBcor-9"],"paddingInner":0,"paddingOuter":0.88}}},
"layer":[
{"mark":{"type":"bar"},"encoding":{"y":{"field":"v","type":"quantitative","stack":null,"scale":{"domain":[0,2.5],"nice":false},"axis":{"values":[0,0.5,1,1.5,2,2.5],"format":".1f","title":null}},"color":{"field":"g","type":"nominal","scale":{"domain":["shControl","shBcor-8","shBcor-9"],"range":["#1e7fc1","#e25050","#8fc44f"]},"legend":null}}},
{"mark":{"type":"rule","color":"#222"},"encoding":{"y":{"field":"lo","type":"quantitative","axis":null},"y2":{"field":"hi"}}},
{"mark":{"type":"tick","color":"#222","size":3,"thickness":1},"encoding":{"y":{"field":"lo","type":"quantitative","axis":null}}},
{"mark":{"type":"tick","color":"#222","size":3,"thickness":1},"encoding":{"y":{"field":"hi","type":"quantitative","axis":null}}},
{"mark":{"type":"text","font":"Liberation Sans","fontSize":9,"fontWeight":"bold","dy":2},"encoding":{"y":{"field":"sy","type":"quantitative","axis":null},"text":{"field":"s"}}},
{"mark":{"type":"text","font":"Noto Sans","fontSize":11,"fontWeight":"bold","fontStyle":"italic","dx":-10},"encoding":{"y":{"field":"gy","type":"quantitative","axis":null},"text":{"field":"gene"}}}
]},
{"width":34,"height":1,"data":{"values":[{"a":0}]},"mark":{"type":"point","opacity":0,"size":0,"strokeWidth":0},"encoding":{}},
{"width":120,"height":78,"resolve":{"axis":{"y":"independent"}},
"data":{"values":[{"d":"0d","g":"shControl","v":1,"lo":0.94,"hi":1.06},{"d":"0d","g":"shBcor-8","v":1.39,"lo":1.38,"hi":1.4,"s":"**","sy":1.52},{"d":"0d","g":"shBcor-9","v":1,"lo":0.98,"hi":1.02},{"d":"2d","g":"shControl","v":0.34,"lo":0.32,"hi":0.36},{"d":"2d","g":"shBcor-8","v":0.49,"lo":0.48,"hi":0.5,"s":"**","sy":0.58},{"d":"2d","g":"shBcor-9","v":0.54,"lo":0.52,"hi":0.56,"s":"***","sy":0.68},{"d":"4d","g":"shControl","v":0.25,"lo":0.245,"hi":0.255},{"d":"4d","g":"shBcor-8","v":0.52,"lo":0.47,"hi":0.57,"s":"***","sy":0.65,"gene":"Elf5","gy":1.46},{"d":"4d","g":"shBcor-9","v":0.6,"lo":0.59,"hi":0.61,"s":"***","sy":0.76},{"d":"6d","g":"shControl","v":0.2,"lo":0.19,"hi":0.21},{"d":"6d","g":"shBcor-8","v":0.43,"lo":0.39,"hi":0.47,"s":"***","sy":0.55},{"d":"6d","g":"shBcor-9","v":0.4,"lo":0.395,"hi":0.405,"s":"***","sy":0.64}]},
"encoding":{"x":{"field":"d","type":"nominal","title":null,"scale":{"paddingInner":0,"paddingOuter":0},"axis":{"tickBand":"extent","labelPadding":4,"title":"Time in TS medium","titleX":-33,"titleY":27,"titleFontSize":12.5}},"xOffset":{"field":"g","type":"nominal","scale":{"domain":["shControl","shBcor-8","shBcor-9"],"paddingInner":0,"paddingOuter":0.88}}},
"layer":[
{"mark":{"type":"bar"},"encoding":{"y":{"field":"v","type":"quantitative","stack":null,"scale":{"domain":[0,1.5],"nice":false},"axis":{"values":[0,0.5,1,1.5],"format":".1f","title":null}},"color":{"field":"g","type":"nominal","scale":{"domain":["shControl","shBcor-8","shBcor-9"],"range":["#1e7fc1","#e25050","#8fc44f"]},"legend":null}}},
{"mark":{"type":"rule","color":"#222"},"encoding":{"y":{"field":"lo","type":"quantitative","axis":null},"y2":{"field":"hi"}}},
{"mark":{"type":"tick","color":"#222","size":3,"thickness":1},"encoding":{"y":{"field":"lo","type":"quantitative","axis":null}}},
{"mark":{"type":"tick","color":"#222","size":3,"thickness":1},"encoding":{"y":{"field":"hi","type":"quantitative","axis":null}}},
{"mark":{"type":"text","font":"Liberation Sans","fontSize":9,"fontWeight":"bold","dy":2},"encoding":{"y":{"field":"sy","type":"quantitative","axis":null},"text":{"field":"s"}}},
{"mark":{"type":"text","font":"Noto Sans","fontSize":11,"fontWeight":"bold","fontStyle":"italic","dx":-16},"encoding":{"y":{"field":"gy","type":"quantitative","axis":null},"text":{"field":"gene"}}}
]},
{"width":33,"height":1,"data":{"values":[{"a":0}]},"mark":{"type":"point","opacity":0,"size":0,"strokeWidth":0},"encoding":{}},
{"width":119,"height":78,"resolve":{"axis":{"y":"independent"}},
"data":{"values":[{"d":"0d","g":"shControl","v":0.99,"lo":0.91,"hi":1.07},{"d":"0d","g":"shBcor-8","v":1.08,"lo":1.01,"hi":1.15},{"d":"0d","g":"shBcor-9","v":0.92,"lo":0.915,"hi":0.925},{"d":"2d","g":"shControl","v":0.03,"lo":0.025,"hi":0.035},{"d":"2d","g":"shBcor-8","v":0.07,"lo":0.06,"hi":0.08,"s":"**","sy":0.16},{"d":"2d","g":"shBcor-9","v":0.03,"lo":0.025,"hi":0.035,"s":"**","sy":0.11},{"d":"4d","g":"shControl","v":0.005,"lo":0.004,"hi":0.006},{"d":"4d","g":"shBcor-8","v":0.005,"lo":0.004,"hi":0.006,"gene":"Esrrb","gy":1.46},{"d":"4d","g":"shBcor-9","v":0.005,"lo":0.004,"hi":0.006},{"d":"6d","g":"shControl","v":0.005,"lo":0.004,"hi":0.006},{"d":"6d","g":"shBcor-8","v":0.005,"lo":0.004,"hi":0.006},{"d":"6d","g":"shBcor-9","v":0.005,"lo":0.004,"hi":0.006}]},
"encoding":{"x":{"field":"d","type":"nominal","title":null,"scale":{"paddingInner":0,"paddingOuter":0},"axis":{"tickBand":"extent","labelPadding":4}},"xOffset":{"field":"g","type":"nominal","scale":{"domain":["shControl","shBcor-8","shBcor-9"],"paddingInner":0,"paddingOuter":0.88}}},
"layer":[
{"mark":{"type":"bar"},"encoding":{"y":{"field":"v","type":"quantitative","stack":null,"scale":{"domain":[0,1.5],"nice":false},"axis":{"values":[0,0.5,1,1.5],"format":".1f","title":null}},"color":{"field":"g","type":"nominal","scale":{"domain":["shControl","shBcor-8","shBcor-9"],"range":["#1e7fc1","#e25050","#8fc44f"]},"legend":{"orient":"none","legendX":105,"legendY":-8,"title":null,"rowPadding":1,"labelOffset":0,"labelFontSize":10.5}}}},
{"mark":{"type":"rule","color":"#222"},"encoding":{"y":{"field":"lo","type":"quantitative","axis":null},"y2":{"field":"hi"}}},
{"mark":{"type":"tick","color":"#222","size":3,"thickness":1},"encoding":{"y":{"field":"lo","type":"quantitative","axis":null}}},
{"mark":{"type":"tick","color":"#222","size":3,"thickness":1},"encoding":{"y":{"field":"hi","type":"quantitative","axis":null}}},
{"mark":{"type":"text","font":"Liberation Sans","fontSize":9,"fontWeight":"bold","dy":2},"encoding":{"y":{"field":"sy","type":"quantitative","axis":null},"text":{"field":"s"}}},
{"mark":{"type":"text","font":"Noto Sans","fontSize":11,"fontWeight":"bold","fontStyle":"italic","dx":-12},"encoding":{"y":{"field":"gy","type":"quantitative","axis":null},"text":{"field":"gene"}}}
]}
]},
{"width":1,"height":110,"data":{"values":[{"a":0}]},"mark":{"type":"point","opacity":0,"size":0,"strokeWidth":0},"encoding":{}}
]}
